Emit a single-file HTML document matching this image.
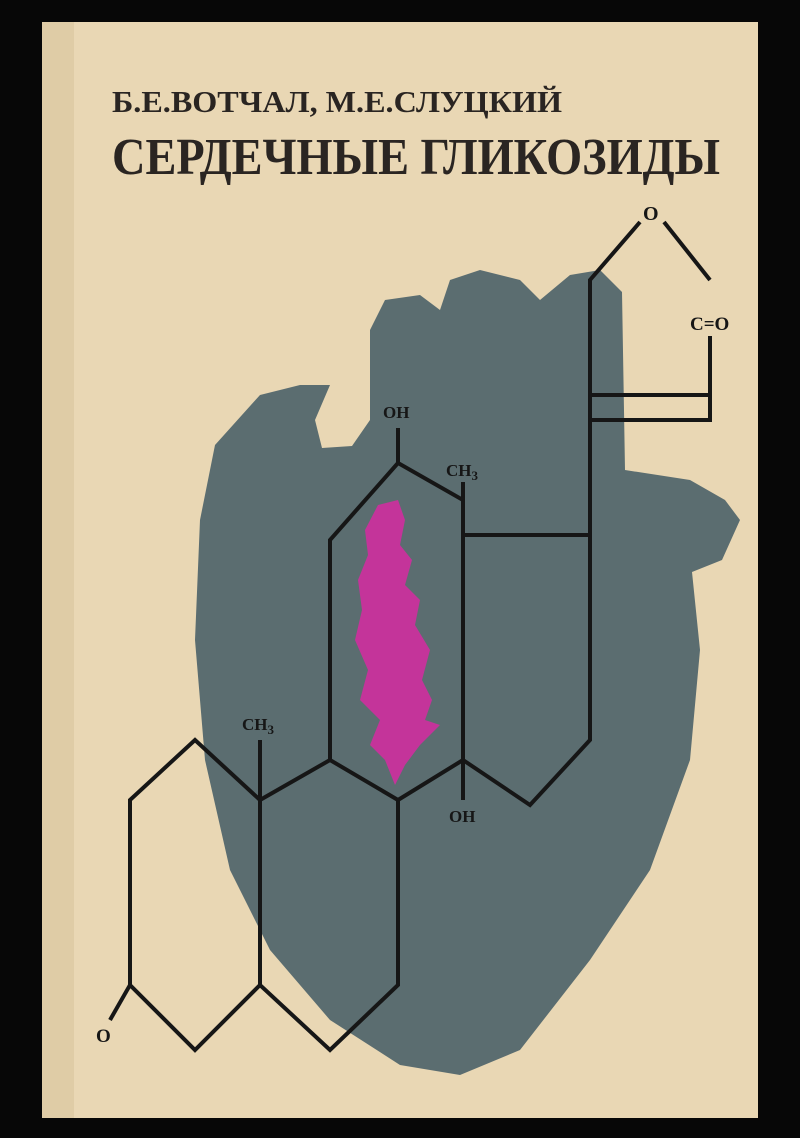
<!DOCTYPE html>
<html><head><meta charset="utf-8"><style>
html,body{margin:0;padding:0;background:#060606;}
svg{display:block}
</style></head><body>
<svg width="800" height="1138" viewBox="0 0 800 1138" xmlns="http://www.w3.org/2000/svg">
<rect width="800" height="1138" fill="#070707"/>
<rect x="42" y="22" width="716" height="1096" fill="#e9d7b4"/>
<rect x="42" y="22" width="32" height="1096" fill="#dfcca6"/>
<text x="112" y="112" font-family="Liberation Serif, serif" font-weight="bold" font-size="31" fill="#2a2522" textLength="450" lengthAdjust="spacingAndGlyphs">Б.Е.ВОТЧАЛ, М.Е.СЛУЦКИЙ</text>
<text x="112" y="174" font-family="Liberation Serif, serif" font-weight="bold" font-size="52" fill="#2a2522" textLength="608" lengthAdjust="spacingAndGlyphs">СЕРДЕЧНЫЕ ГЛИКОЗИДЫ</text>
<path fill="#5b6d70" d="M200,520 L215,445 L260,395 L300,385 L330,385 L315,420 L322,448 L352,446 L370,420 L370,330 L385,300 L420,295 L440,310 L450,280 L480,270 L520,280 L540,300 L570,275 L600,270 L622,292 L625,470 L690,480 L725,500 L740,520 L722,560 L692,572 L700,650 L690,760 L650,870 L590,960 L520,1050 L460,1075 L400,1065 L330,1020 L270,950 L230,870 L205,760 L195,640 Z"/>
<path fill="#c4349a" d="M378,505 L398,500 L405,520 L400,545 L412,560 L405,585 L420,600 L415,625 L430,650 L422,680 L432,700 L425,720 L440,725 L420,745 L405,765 L395,785 L385,760 L370,745 L380,720 L360,700 L368,670 L355,640 L362,610 L358,580 L368,555 L365,530 Z"/>
<g fill="none" stroke="#161616" stroke-width="4" stroke-linejoin="miter">
<polyline points="398,428 398,463 463,500 463,760 398,800 330,760 330,540 398,463"/>
<line x1="463" y1="482" x2="463" y2="535"/>
<polyline points="463,535 590,535"/>
<polyline points="463,760 530,805 590,740 590,280 640,222"/>
<polyline points="664,222 710,280"/>
<polyline points="710,336 710,420 590,420"/>
<line x1="590" y1="395" x2="710" y2="395"/>
<line x1="463" y1="760" x2="463" y2="800"/>
<polyline points="330,760 260,800 195,740 130,800 130,985 195,1050 260,985 330,1050 398,985 398,800"/>
<line x1="260" y1="740" x2="260" y2="985"/>
<line x1="130" y1="985" x2="110" y2="1020"/>
</g>
<g font-family="Liberation Serif, serif" font-weight="bold" fill="#161616">
<text x="383" y="418" font-size="17">OH</text>
<text x="446" y="476" font-size="17">CH<tspan font-size="13" dy="4">3</tspan></text>
<text x="449" y="822" font-size="17">OH</text>
<text x="242" y="730" font-size="17">CH<tspan font-size="13" dy="4">3</tspan></text>
<text x="643" y="220" font-size="20">O</text>
<text x="690" y="330" font-size="19">C=O</text>
<text x="96" y="1042" font-size="19">O</text>
</g>
</svg>
</body></html>
